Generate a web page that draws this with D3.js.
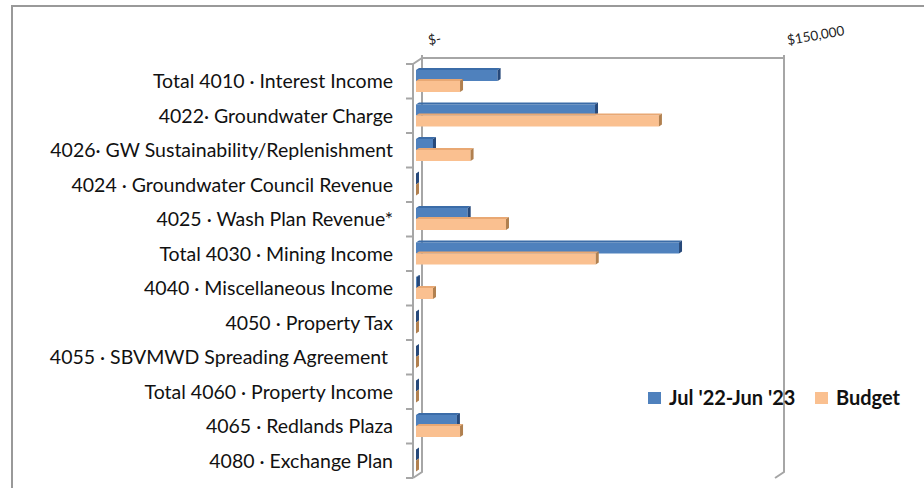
<!DOCTYPE html>
<html>
<head>
<meta charset="utf-8">
<script src="https://cdn.jsdelivr.net/npm/d3@7"></script>
<style>
  body { margin: 0; background: #fff; }
  svg { display: block; font-family: Lato, "Open Sans", sans-serif; }
</style>
</head>
<body>
<div id="chart"></div>
<script>
// income categories, top to bottom
const categories = [
  'Total 4010 · Interest Income',
  '4022· Groundwater Charge',
  '4026· GW Sustainability/Replenishment',
  '4024 · Groundwater Council Revenue',
  '4025 · Wash Plan Revenue*',
  'Total 4030 · Mining Income',
  '4040 · Miscellaneous Income',
  '4050 · Property Tax',
  '4055 · SBVMWD Spreading Agreement ',
  'Total 4060 · Property Income',
  '4065 · Redlands Plaza',
  '4080 · Exchange Plan'
];
const actual = [34100, 74800, 7100, 0, 21600, 109900, 400, 0, 0, 0, 17100, 0];
const budget = [18400, 101500, 22800, 0, 37600, 75100, 7100, 0, 0, 0, 18400, 0];
const seriesNames = ["Jul '22-Jun '23", 'Budget'];
const xTicks = [0, 150000];
const xTickLabels = ['$-', '$150,000'];

const W = 924, H = 488;
const M = { t: 64, b: 478, l: 416, r: 775 };
const depth = { dx: 9, dy: 6 };   // wall depth
const bd = { dx: 3, dy: 2 };      // bar depth

const colors = {
  actual: { front: '#4F81BD', top: '#3B6CA8', side: '#27497A' },
  budget: { front: '#FAC090', top: '#E9A873', side: '#B1804F' }
};
const wall = '#A6A6A6';

const svg = d3.select('#chart').append('svg')
  .attr('width', W).attr('height', H)
  .attr('viewBox', `0 0 ${W} ${H}`);

// outer chart border (cut off at right/bottom like the original)
svg.append('rect')
  .attr('x', 12).attr('y', 6).attr('width', W).attr('height', H)
  .attr('fill', 'none').attr('stroke', '#999').attr('stroke-width', 2);

const x = d3.scaleLinear().domain([0, 150000]).range([M.l, M.r]);
const y = d3.scaleBand().domain(categories).range([M.t, M.b]).paddingInner(0).paddingOuter(0);
const sub = d3.scaleBand().domain(['actual', 'budget']).range([6, 28]);

const axX = M.l - 3;              // front axis line
const backL = axX + depth.dx, backR = x(150000) + depth.dx;
const topBack = M.t - depth.dy, botBack = M.b - depth.dy;

// walls
const g = svg.append('g').attr('fill', 'none').attr('stroke', wall).attr('stroke-width', 2);
g.append('path').attr('d', `M${backL},${topBack - 3}V${botBack}L${axX},${M.b}`);
g.append('path').attr('d', `M${axX},${M.t}L${backL},${topBack}H${backR}`);
g.append('path').attr('d', `M${backR},${topBack - 3}V${botBack}L${backR - depth.dx},${M.b}`);
g.append('line').attr('x1', axX).attr('x2', axX).attr('y1', M.t).attr('y2', M.b);

// category ticks on front axis
const bounds = categories.map(c => y(c)).concat([M.b]);
g.selectAll('.tk').data(bounds).enter().append('line')
  .attr('x1', axX - 7).attr('x2', axX).attr('y1', d => d).attr('y2', d => d);

// value labels over the back wall
svg.selectAll('.xl').data(xTicks).enter().append('text')
  .attr('transform', (d, i) => `translate(${x(d) + depth.dx + 4},${topBack - 13}) rotate(-10)`)
  .attr('font-size', 13.5).attr('fill', '#222')
  .text((d, i) => xTickLabels[i]);

// 3D bars
function bar(sel, key, vals) {
  const c = colors[key];
  const items = categories.map((cat, i) => ({ cat, v: vals[i] }));
  const gg = sel.append('g');
  items.forEach(d => {
    const x0 = x(0), x1 = x(d.v);
    const y0 = y(d.cat) + sub(key), h = sub.bandwidth();
    gg.append('rect').attr('x', x0).attr('y', y0).attr('width', x1 - x0).attr('height', h)
      .attr('fill', c.front);
    gg.append('path')
      .attr('d', `M${x0},${y0}L${x0 + bd.dx},${y0 - bd.dy}H${x1 + bd.dx}L${x1},${y0}Z`)
      .attr('fill', c.top);
    gg.append('path')
      .attr('d', `M${x1},${y0}L${x1 + bd.dx},${y0 - bd.dy}V${y0 + h - bd.dy}L${x1},${y0 + h}Z`)
      .attr('fill', c.side);
  });
}
bar(svg, 'actual', actual);
bar(svg, 'budget', budget);

// category labels
svg.selectAll('.cl').data(categories).enter().append('text')
  .attr('x', 393).attr('y', d => y(d) + y.bandwidth() / 2)
  .attr('dy', '0.35em').attr('text-anchor', 'end')
  .attr('font-size', 19.5).attr('fill', '#111')
  .style('white-space', 'pre')
  .text(d => d);

// legend
const lg = svg.append('g').attr('transform', 'translate(648,392)');
const lx = [0, 167];
['actual', 'budget'].forEach((k, i) => {
  lg.append('rect').attr('x', lx[i]).attr('y', 0).attr('width', 13).attr('height', 12)
    .attr('fill', colors[k].front);
  lg.append('text').attr('x', lx[i] + 21).attr('y', 6).attr('dy', '0.35em')
    .attr('font-size', 20).attr('font-weight', 'bold').attr('fill', '#111')
    .text(seriesNames[i]);
});
</script>
</body>
</html>
